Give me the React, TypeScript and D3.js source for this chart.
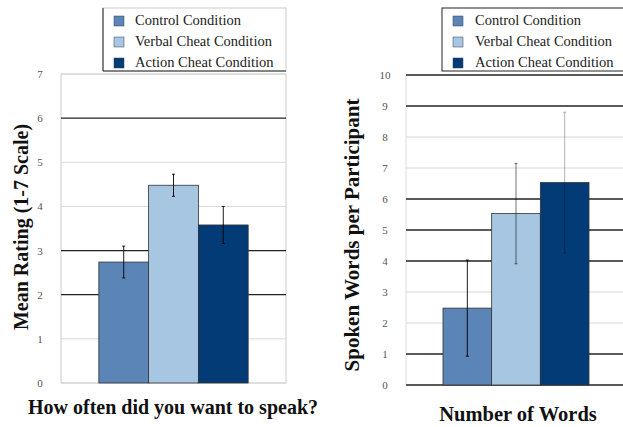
import React from "react";
import * as d3 from "d3";

const categories = ["Control Condition", "Verbal Cheat Condition", "Action Cheat Condition"];
const colors = ["#5b84b7", "#a7c6e1", "#023b75"];
const ratingMeans = [2.74, 4.48, 3.58];
const ratingErr = [0.36, 0.25, 0.42];
const wordsMeans = [2.48, 5.53, 6.53];
const wordsErr = [1.55, 1.62, 2.27];
const ratingTicks = [0, 1, 2, 3, 4, 5, 6, 7];
const wordsTicks = [0, 1, 2, 3, 4, 5, 6, 7, 8, 9, 10];
const ratingDark = [6, 3, 2];
const wordsDark = [10, 9, 6, 5, 4, 1, 0];
const errOpacityLeft = [0.9, 0.9, 0.9];
const errOpacityRight = [0.9, 0.55, 0.3];

const serif = "'Liberation Serif', 'Times New Roman', serif";

function Legend({ x, y, w, h, sx, tx, fullBorder }: any) {
  return (
    <g>
      <rect x={x} y={y} width={w} height={h} fill="#fff" stroke={fullBorder ? "#222" : "#ccc"} strokeWidth={1} />
      {!fullBorder && (
        <g>
          <line x1={x} x2={x} y1={y} y2={y + h} stroke="#222" />
          <line x1={x} x2={x + w} y1={y + h} y2={y + h} stroke="#222" />
        </g>
      )}
      {categories.map((c, i) => (
        <g key={c}>
          <rect x={sx} y={y + 8 + i * 21} width={10} height={10} fill={colors[i]} stroke="#345" strokeWidth={0.5} />
          <text x={tx} y={y + 17 + i * 21} fontFamily={serif} fontSize={14.5} fill="#222">{c}</text>
        </g>
      ))}
    </g>
  );
}

function Panel({ means, errs, ticks, dark, x0, x1, yTop, yBot, max, labelX, frame, errOp, title, xTitle, titleX, titleY, titleSize, xTitleX, xTitleY, xTitleSize }: any) {
  const y = d3.scaleLinear().domain([0, max]).range([yBot, yTop]);
  const xb = d3.scaleBand().domain(categories).range([x0, x1]).paddingInner(0).paddingOuter(0.76);
  return (
    <g>
      {frame && <rect x={x0} y={yTop} width={x1 - x0} height={yBot - yTop} fill="none" stroke="#ccc" />}
      {!frame && <line x1={x0} x2={x0} y1={yTop} y2={yBot} stroke="#ddd" />}
      {ticks.map((t: number) => (
        <line key={"g" + t} x1={x0} x2={x1} y1={y(t)} y2={y(t)}
          stroke={dark.includes(t) ? "#222" : "#d8d8d8"} strokeWidth={dark.includes(t) ? 1.3 : 1} />
      ))}
      {ticks.map((t: number) => (
        <text key={"t" + t} x={labelX} y={y(t) + 4} textAnchor="middle" fontFamily={serif} fontSize={11} fill="#555">{t}</text>
      ))}
      {categories.map((c, i) => (
        <rect key={c} x={xb(c)} y={y(means[i])} width={xb.bandwidth()} height={yBot - y(means[i])}
          fill={colors[i]} stroke="#333" strokeWidth={0.8} />
      ))}
      {categories.map((c, i) => {
        const cx = (xb(c) as number) + xb.bandwidth() / 2;
        return (
          <g key={"e" + c} stroke="#000" strokeOpacity={errOp[i]} strokeWidth={1}>
            <line x1={cx} x2={cx} y1={y(means[i] + errs[i])} y2={y(means[i] - errs[i])} />
            <line x1={cx - 1.5} x2={cx + 1.5} y1={y(means[i] + errs[i])} y2={y(means[i] + errs[i])} />
            <line x1={cx - 1.5} x2={cx + 1.5} y1={y(means[i] - errs[i])} y2={y(means[i] - errs[i])} />
          </g>
        );
      })}
      <text transform={`translate(${titleX},${titleY}) rotate(-90)`} textAnchor="middle" fontFamily={serif}
        fontSize={titleSize} fontWeight="bold" fill="#111">{title}</text>
      <text x={xTitleX} y={xTitleY} textAnchor="middle" fontFamily={serif} fontSize={xTitleSize} fontWeight="bold" fill="#111">{xTitle}</text>
    </g>
  );
}

export default function App() {
  return (
    <svg width={623} height={427} style={{ position: "absolute", left: 0, top: 0, background: "#fff" }}>
      <rect width={623} height={427} fill="#fff" />
      <Panel means={ratingMeans} errs={ratingErr} ticks={ratingTicks} dark={ratingDark} x0={61} x1={286}
        yTop={74} yBot={383} max={7} labelX={40} frame={true} errOp={errOpacityLeft}
        title="Mean Rating (1-7 Scale)" xTitle="How often did you want to speak?"
        titleX={28} titleY={227} titleSize={20} xTitleX={173} xTitleY={414} xTitleSize={20} />
      <Panel means={wordsMeans} errs={wordsErr} ticks={wordsTicks} dark={wordsDark} x0={406} x1={626}
        yTop={75} yBot={385} max={10} labelX={385} frame={false} errOp={errOpacityRight}
        title="Spoken Words per Participant" xTitle="Number of Words"
        titleX={359} titleY={235} titleSize={21} xTitleX={518} xTitleY={421} xTitleSize={20.5} />
      <Legend x={103} y={8} w={183} h={63} sx={114} tx={135} fullBorder={false} />
      <Legend x={442} y={8} w={190} h={63} sx={453} tx={475} fullBorder={true} />
    </svg>
  );
}
